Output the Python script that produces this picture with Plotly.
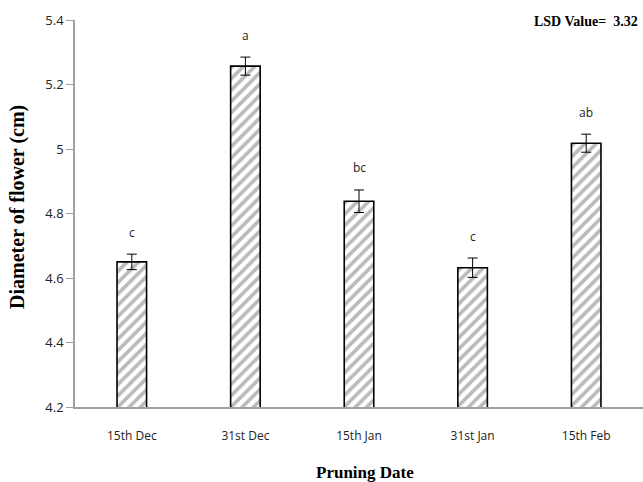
import plotly.graph_objects as go

categories = ["15th Dec", "31st Dec", "15th Jan", "31st Jan", "15th Feb"]
values = [4.65, 5.257, 4.838, 4.632, 5.018]
errors = [0.024, 0.028, 0.035, 0.03, 0.028]
letters = ["c", "a", "bc", "c", "ab"]
y_ticks = [4.2, 4.4, 4.6, 4.8, 5.0, 5.2, 5.4]
y_tick_labels = ["4.2", "4.4", "4.6", "4.8", "5", "5.2", "5.4"]

fig = go.Figure()
fig.add_trace(go.Bar(
    x=categories, y=values, width=0.26,
    marker=dict(color="white", line=dict(color="black", width=1.6),
                pattern=dict(shape="/", fgcolor="#757575", bgcolor="white", size=8, solidity=0.45)),
    error_y=dict(type="data", array=errors, visible=True, color="black", thickness=1, width=5),
))

for c, v, e, t in zip(categories, values, errors, letters):
    fig.add_annotation(x=c, y=v + e, text=t, showarrow=False, yshift=22,
                       font=dict(family="Open Sans", size=12, color="#222"))

fig.add_annotation(xref="paper", yref="paper", x=1.0, y=0.997, xanchor="right", yanchor="middle",
                   xshift=-3, text="<b>LSD Value=  3.32</b>", showarrow=False,
                   font=dict(family="Liberation Serif", size=14, color="black"))

# axis titles as annotations for exact placement
fig.add_annotation(xref="paper", yref="paper", x=0, y=0.517, xshift=-57, textangle=-90,
                   xanchor="center", yanchor="middle", showarrow=False,
                   text="<b>Diameter of flower (cm)</b>",
                   font=dict(family="Liberation Serif", size=20, color="black"))
fig.add_annotation(xref="paper", yref="paper", x=0.51, y=-0.168,
                   xanchor="center", yanchor="middle", showarrow=False,
                   text="<b>Pruning Date</b>",
                   font=dict(family="Liberation Serif", size=17, color="black"))

fig.update_layout(
    width=643, height=482,
    margin=dict(l=75, r=0, t=20, b=75),
    plot_bgcolor="white", paper_bgcolor="white",
    showlegend=False,
    xaxis=dict(showline=True, linecolor="#a0a0a0", linewidth=1.5, showgrid=False,
               tickfont=dict(family="Open Sans", size=12, color="#222"),
               ticks="", ticklabelstandoff=17),
    yaxis=dict(range=[4.2, 5.4], tickvals=y_ticks, ticktext=y_tick_labels,
               showline=True, linecolor="#a0a0a0", linewidth=1.5, showgrid=False,
               ticks="outside", ticklen=7, tickcolor="#a0a0a0",
               tickfont=dict(family="Open Sans", size=13, color="#222")),
)

fig.write_html("out.html", config={"displayModeBar": False},
               post_script="document.body.style.margin='0';document.body.style.overflow='hidden';")
